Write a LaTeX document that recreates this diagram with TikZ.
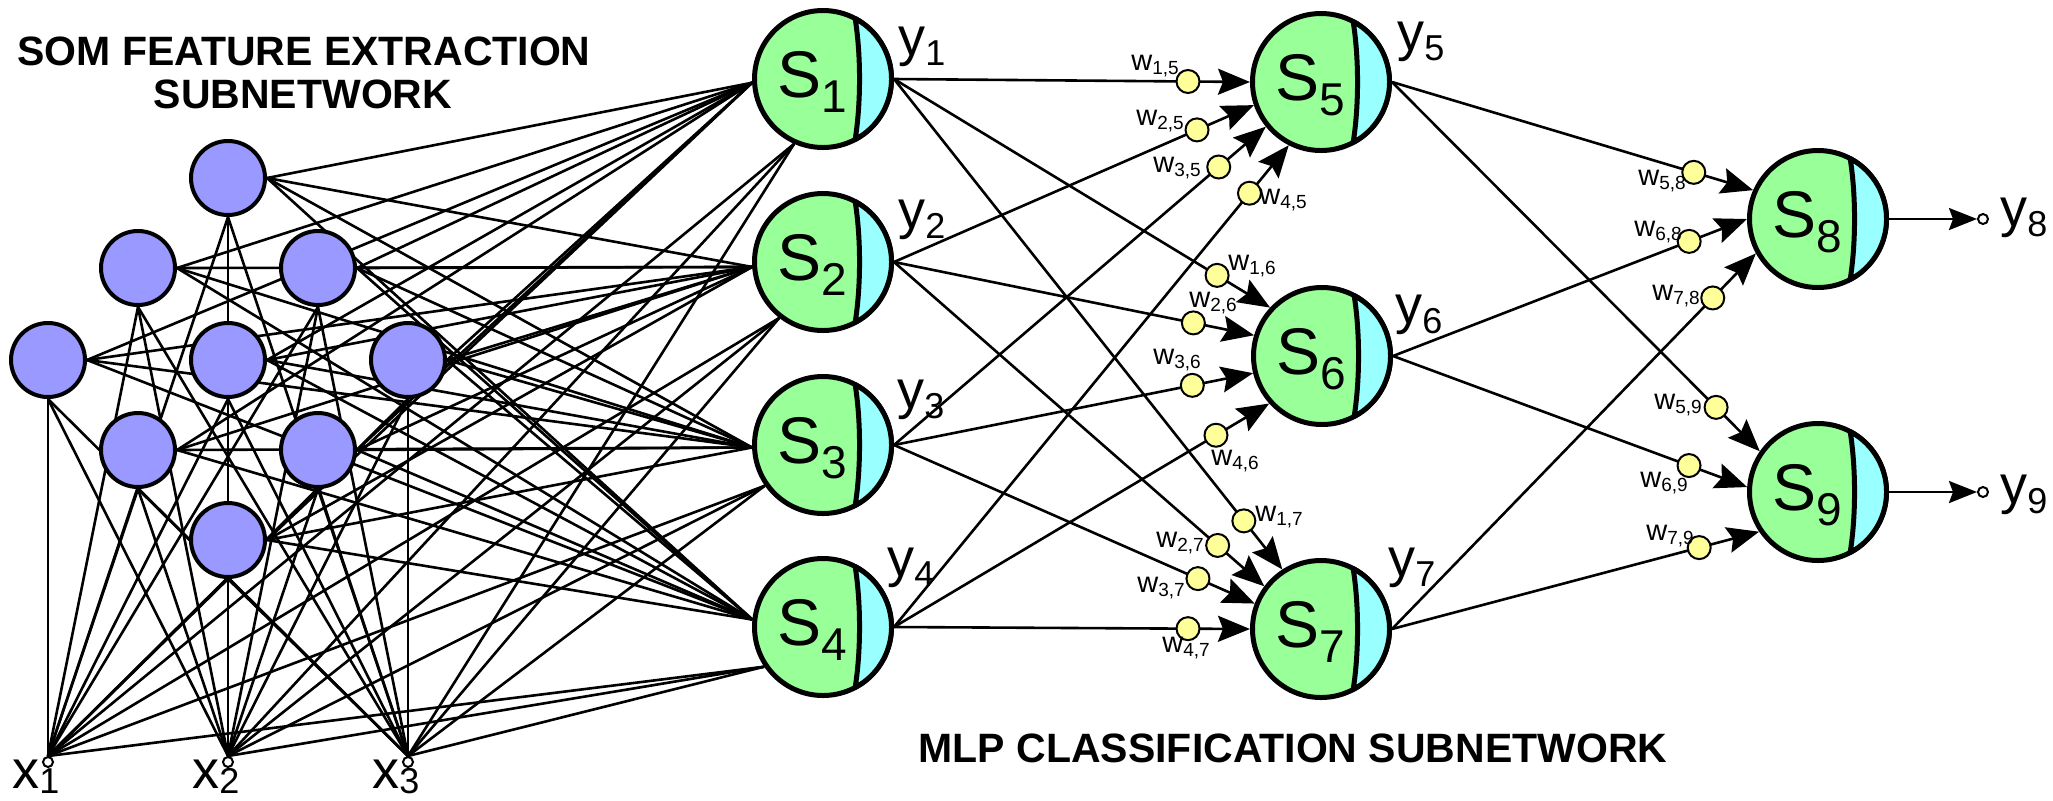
\documentclass[tikz,border=0pt]{standalone}
\usepackage{fontspec}
\setmainfont{Liberation Sans}
\usetikzlibrary{arrows.meta,calc,backgrounds}

\definecolor{somblue}{RGB}{153,153,255}
\definecolor{cellgreen}{RGB}{153,255,153}
\definecolor{cellcyan}{RGB}{153,255,255}
\definecolor{weightyellow}{RGB}{255,255,153}

% neuron name S_k
\newcommand{\Slab}[1]{{\fontsize{33pt}{33pt}\selectfont S\raisebox{-7.5pt}{\fontsize{23pt}{23pt}\selectfont #1}}}
% signal names x_i, y_k
\newcommand{\siglab}[3]{{\fontsize{27pt}{27pt}\selectfont #1\raisebox{-#3}{\fontsize{18pt}{18pt}\selectfont #2}}}
% weight names w_{i,k}
\newcommand{\wlab}[1]{{\fontsize{14.5pt}{14.5pt}\selectfont w\raisebox{-2pt}{\fontsize{9.5pt}{9.5pt}\selectfont #1}}}
% cyan output crescent on the right side of a neuron
\newcommand{\crescent}[1]{%
  \filldraw[fill=cellcyan, line width=2.5pt, line join=round, shift={(#1.center)}]
    (62:34.25pt) .. controls (19pt,12pt) and (19pt,-12pt) .. (-62:34.25pt)
    arc[start angle=-62, end angle=62, radius=34.25pt] -- cycle;}

\begin{document}
\begin{tikzpicture}[x=0.5pt, y=-0.5pt,
  somnode/.style={circle, draw, line width=2pt, fill=somblue, minimum size=37pt, inner sep=0pt},
  cell/.style={circle, draw, line width=2.5pt, fill=cellgreen, minimum size=68.5pt, inner sep=0pt},
  weight/.style={circle, draw, line width=1pt, fill=weightyellow, minimum size=11.5pt, inner sep=0pt},
  port/.style={circle, draw, line width=1pt, fill=white, minimum size=5pt, inner sep=0pt},
  link/.style={line width=1.3pt},
  wlink/.style={line width=1.3pt, -{Stealth[length=16pt, width=13pt, inset=2.5pt]}},
  olink/.style={line width=1.3pt, -{Stealth[length=14pt, width=11pt, inset=2pt]}},
  wlabel/.style={inner sep=0pt},
  sig/.style={inner sep=0pt, anchor=base west},
  heading/.style={font=\bfseries\fontsize{20.5pt}{24pt}\selectfont, inner sep=0pt, anchor=base}]

\useasboundingbox (0,0) rectangle (2053,800);

% headings
\node[heading] (h1) at (304,65) {SOM FEATURE EXTRACTION};
\node[heading] (h2) at (303,108) {SUBNETWORK};
\node[heading] (h3) at (1293,762) {MLP CLASSIFICATION SUBNETWORK};

% SOM lattice
\foreach \n/\x/\y in {1/228/178, 2/138/268, 3/318/268, 4/48/360, 5/228/360,
                      6/408/360, 7/138/450, 8/318/450, 9/228/540}
  \node[somnode] (m\n) at (\x,\y) {};

% inputs
\foreach \n/\x in {1/48, 2/228, 3/408} {
  \node[port] (x\n) at (\x,762) {};
  \node[sig] (xl\n) at (\x-36,788) {\siglab{x}{\n}{2.5pt}};
}

% neurons
\foreach \n/\x/\y in {1/823/79, 2/823/262, 3/823/445, 4/823/627,
                      5/1321/82, 6/1322/356, 7/1321/629,
                      8/1818/219, 9/1818/492} {
  \node[cell] (S\n) at (\x,\y) {};
  \crescent{S\n}
  \node[sig] (St\n) at (\x-46,\y+18) {\Slab{\n}};
}

% neuron outputs
\foreach \n/\x/\y in {1/898/55, 2/898/228, 3/897/408, 4/887/576,
                      5/1397/50, 6/1395/323, 7/1388/576, 8/2000/226, 9/2000/503}
  \node[sig] (yl\n) at (\x,\y) {\siglab{y}{\n}{5pt}};

\node[port] (o8) at (1983,219) {};
\node[port] (o9) at (1983,492) {};

\begin{pgfonlayer}{background}
  \fill[white] (0,0) rectangle (2053,800);
  % SOM units to first layer
  \foreach \m in {1,...,9}
    \foreach \s/\a in {S1/183, S2/184, S3/182, S4/174}
      \draw[link] (m\m.east) -- (\s.\a);
  % inputs to SOM units
  \foreach \i in {1,2,3}
    \foreach \m in {1,...,9}
      \draw[link] (x\i.north) -- (m\m.south);
  % inputs to first layer
  \foreach \i in {1,2,3}
    \foreach \s/\a in {S1/246, S2/232, S3/215, S4/214}
      \draw[link] (x\i.north) -- (\s.\a);
  % weighted connections
  \foreach \s/\d/\a in {S1/S5/180, S2/S5/199, S3/S5/219, S4/S5/243,
                        S1/S6/137, S2/S6/163, S3/S6/194, S4/S6/222,
                        S1/S7/123, S2/S7/143, S3/S7/159, S4/S7/180,
                        S5/S8/156, S6/S8/180, S7/S8/209,
                        S5/S9/145, S6/S9/176, S7/S9/214}
    \draw[wlink] (\s.east) -- (\d.\a);
  \draw[olink] (S8.east) -- (o8.west);
  \draw[olink] (S9.east) -- (o9.west);
\end{pgfonlayer}

% weights
\foreach \s/\d/\a/\lx/\ly/\lab in {
    S1/S5/180/1155/66/{1,5}, S2/S5/199/1160/121/{2,5},
    S3/S5/219/1177/168/{3,5}, S4/S5/243/1283/200/{4,5},
    S1/S6/137/1252/266/{1,6}, S2/S6/163/1213/303/{2,6},
    S3/S6/194/1177/360/{3,6}, S4/S6/222/1235/461/{4,6},
    S1/S7/123/1279/517/{1,7}, S2/S7/143/1180/543/{2,7},
    S3/S7/159/1161/588/{3,7}, S4/S7/180/1186/648/{4,7},
    S5/S8/156/1662/181/{5,8}, S6/S8/180/1658/232/{6,8},
    S7/S8/209/1676/296/{7,8}, S5/S9/145/1678/405/{5,9},
    S6/S9/176/1664/483/{6,9}, S7/S9/214/1670/536/{7,9}} {
  \node[weight] (w\s\d) at ($(\d.\a)!31pt!(\s.east)$) {};
  \node[wlabel] (wl\s\d) at (\lx,\ly) {\wlab{\lab}};
}
\end{tikzpicture}
\end{document}
